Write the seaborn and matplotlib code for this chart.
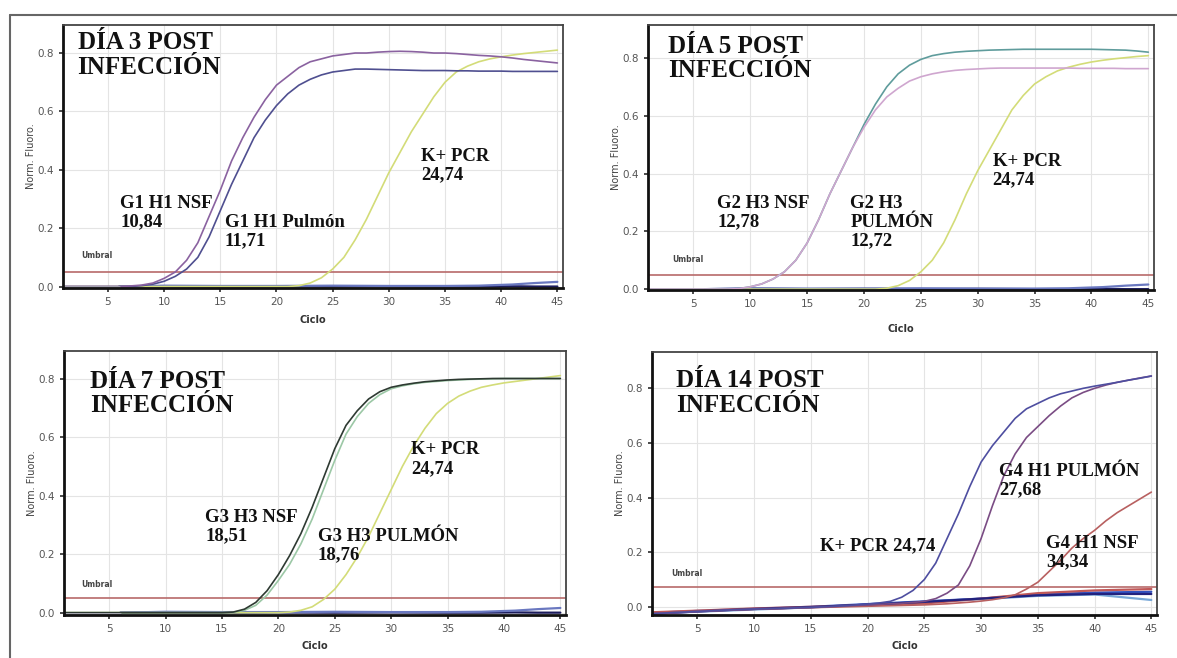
import pandas as pd
import seaborn as sns
import matplotlib.pyplot as plt
from matplotlib.lines import Line2D
from matplotlib.ticker import FormatStrFormatter

# --- datos (fluorescencia normalizada por ciclo) ---
CICLOS = list(range(1, 46))

d3_nsf = [0, 0, 0, 0, 0, 0, 0.002, 0.005, 0.012, 0.028, 0.05, 0.09, 0.15, 0.24, 0.33,
          0.43, 0.51, 0.58, 0.64, 0.69, 0.72, 0.75, 0.77, 0.78, 0.79, 0.795, 0.80, 0.80,
          0.803, 0.805, 0.806, 0.805, 0.803, 0.80, 0.80, 0.798, 0.795, 0.792, 0.79, 0.787,
          0.783, 0.778, 0.774, 0.77, 0.766]
d3_pulmon = [0, 0, 0, 0, 0, 0, 0, 0.003, 0.008, 0.018, 0.035, 0.06, 0.10, 0.17, 0.26,
             0.35, 0.43, 0.51, 0.57, 0.62, 0.66, 0.69, 0.71, 0.725, 0.735, 0.74, 0.745,
             0.745, 0.744, 0.743, 0.742, 0.741, 0.74, 0.74, 0.74, 0.739, 0.739, 0.738,
             0.738, 0.738, 0.737, 0.737, 0.737, 0.737, 0.737]
d3_kpcr = [0] * 21 + [0.003, 0.012, 0.03, 0.06, 0.10, 0.16, 0.23, 0.31, 0.39, 0.46, 0.53,
                      0.59, 0.65, 0.70, 0.735, 0.755, 0.77, 0.78, 0.787, 0.793, 0.798,
                      0.802, 0.806, 0.81]

d5_nsf = [0] * 8 + [0.002, 0.008, 0.018, 0.035, 0.06, 0.10, 0.16, 0.24, 0.33, 0.41, 0.49,
                    0.57, 0.64, 0.70, 0.745, 0.775, 0.795, 0.808, 0.815, 0.82, 0.823, 0.825,
                    0.827, 0.828, 0.829, 0.83, 0.83, 0.83, 0.83, 0.83, 0.83, 0.83, 0.829,
                    0.828, 0.827, 0.824, 0.82]
d5_pulmon = [0] * 8 + [0.002, 0.008, 0.018, 0.035, 0.06, 0.10, 0.16, 0.24, 0.33, 0.41, 0.49,
                       0.56, 0.62, 0.665, 0.695, 0.72, 0.735, 0.745, 0.752, 0.757, 0.76,
                       0.762, 0.764, 0.765, 0.765, 0.765, 0.765, 0.765, 0.765, 0.765, 0.764,
                       0.764, 0.764, 0.764, 0.763, 0.763, 0.763]
d5_kpcr = [0] * 21 + [0.003, 0.012, 0.03, 0.06, 0.10, 0.16, 0.24, 0.33, 0.41, 0.48, 0.55,
                      0.62, 0.67, 0.71, 0.735, 0.755, 0.768, 0.778, 0.786, 0.792, 0.797,
                      0.801, 0.805, 0.808]

d7_nsf = [0] * 15 + [0.002, 0.012, 0.035, 0.075, 0.13, 0.195, 0.27, 0.36, 0.46, 0.56, 0.64,
                     0.69, 0.73, 0.755, 0.77, 0.778, 0.784, 0.789, 0.792, 0.795, 0.797,
                     0.798, 0.799, 0.80, 0.80, 0.80, 0.80, 0.80, 0.80, 0.80]
d7_pulmon = [0] * 15 + [0.001, 0.008, 0.025, 0.06, 0.11, 0.165, 0.235, 0.32, 0.42, 0.52, 0.61,
                        0.67, 0.715, 0.745, 0.765, 0.775, 0.782, 0.787, 0.79, 0.793, 0.795,
                        0.797, 0.798, 0.799, 0.80, 0.80, 0.80, 0.80, 0.80, 0.80]
d7_kpcr = [0] * 20 + [0.002, 0.008, 0.02, 0.045, 0.08, 0.13, 0.19, 0.26, 0.34, 0.42, 0.50,
                      0.57, 0.63, 0.68, 0.715, 0.74, 0.757, 0.77, 0.778, 0.785, 0.79, 0.795,
                      0.80, 0.805, 0.81]

d14_kpcr = [-0.025, -0.023, -0.021, -0.019, -0.017, -0.015, -0.013, -0.011, -0.01, -0.008,
            -0.007, -0.006, -0.005, -0.003, -0.002, 0.0, 0.002, 0.004, 0.007, 0.01, 0.014,
            0.02, 0.035, 0.06, 0.10, 0.16, 0.25, 0.34, 0.44, 0.53, 0.59, 0.64, 0.69, 0.725,
            0.745, 0.765, 0.78, 0.79, 0.80, 0.808, 0.815, 0.822, 0.83, 0.837, 0.845]
d14_pulmon = [-0.026, -0.024, -0.022, -0.02, -0.018, -0.016, -0.014, -0.012, -0.011, -0.009,
              -0.008, -0.007, -0.006, -0.004, -0.003, -0.001, 0.001, 0.003, 0.005, 0.007,
              0.009, 0.011, 0.013, 0.016, 0.02, 0.03, 0.05, 0.08, 0.15, 0.25, 0.37, 0.48,
              0.56, 0.62, 0.66, 0.70, 0.735, 0.765, 0.785, 0.80, 0.812, 0.822, 0.83, 0.838,
              0.845]
d14_nsf = [-0.024, -0.022, -0.02, -0.018, -0.016, -0.015, -0.013, -0.012, -0.01, -0.009,
           -0.008, -0.007, -0.005, -0.004, -0.003, -0.002, -0.001, 0.0, 0.001, 0.002, 0.003,
           0.004, 0.005, 0.006, 0.007, 0.009, 0.011, 0.014, 0.017, 0.021, 0.026, 0.033,
           0.044, 0.065, 0.09, 0.13, 0.17, 0.215, 0.25, 0.28, 0.315, 0.345, 0.37, 0.395, 0.42]

# controles negativos (muestreados en menos ciclos)
NEG_CICLOS = [6, 10, 15, 20, 25, 30, 35, 38, 41, 43, 45]
neg_navy = [0.0, 0.001, 0.0, 0.001, 0.0, 0.001, 0.0, 0.0, 0.001, 0.0, 0.0]
neg_azul = [0.0, 0.003, 0.002, 0.002, 0.003, 0.002, 0.002, 0.003, 0.007, 0.012, 0.016]

NEG14_CICLOS = [1, 5, 10, 15, 20, 25, 30, 35, 40, 45]
neg14_a = [-0.022, -0.015, -0.007, 0.0, 0.01, 0.02, 0.03, 0.045, 0.052, 0.055]
neg14_b = [-0.025, -0.018, -0.01, -0.002, 0.007, 0.017, 0.028, 0.04, 0.045, 0.025]
neg14_c = [-0.02, -0.014, -0.006, 0.0, 0.006, 0.012, 0.03, 0.05, 0.06, 0.065]
neg14_d = [-0.026, -0.017, -0.008, -0.001, 0.008, 0.018, 0.03, 0.042, 0.047, 0.047]

UMBRAL = [0.05, 0.05, 0.05, 0.072]
TITULOS = ["DÍA 3 POST\nINFECCIÓN", "DÍA 5 POST\nINFECCIÓN",
           "DÍA 7 POST\nINFECCIÓN", "DÍA 14 POST\nINFECCIÓN"]

AMARILLO = "#d3dc78"


def to_long(ciclos, series):
    frames = []
    for name, vals in series.items():
        frames.append(pd.DataFrame({"ciclo": ciclos, "fluoro": vals, "serie": name}))
    return pd.concat(frames, ignore_index=True)


def draw_panel(ax, curvas, colores, negs, neg_colores, neg_ciclos, ylim, umbral,
               umbral_xy, titulo, titulo_xy, etiquetas, xpad=6):
    if negs:
        sns.lineplot(data=to_long(neg_ciclos, negs), x="ciclo", y="fluoro", hue="serie",
                     palette=neg_colores, legend=False, ax=ax, linewidth=1.6,
                     estimator=None, sort=False)
    sns.lineplot(data=to_long(CICLOS, curvas), x="ciclo", y="fluoro", hue="serie",
                 palette=colores, legend=False, ax=ax, linewidth=1.2,
                 estimator=None, sort=False)
    ax.axhline(umbral, color="#b86a6a", lw=1.2, zorder=1)
    ax.text(umbral_xy[0], umbral_xy[1], "Umbral", fontsize=5.5, color="#444",
            fontweight="bold", ha="left", va="center")
    ax.text(titulo_xy[0], titulo_xy[1], titulo, family="Liberation Serif",
            fontweight="bold", fontsize=18, ha="left", va="top", linespacing=1.08,
            color="#111")
    for txt, x, y in etiquetas:
        ax.text(x, y, txt, family="Liberation Serif", fontweight="bold", fontsize=13.5,
                ha="left", va="top", linespacing=1.1, color="#111")

    ax.set_xlim(1, 45.5)
    ax.set_ylim(*ylim)
    ax.set_xticks(range(5, 46, 5))
    ax.set_yticks([0.0, 0.2, 0.4, 0.6, 0.8])
    ax.yaxis.set_major_formatter(FormatStrFormatter("%.1f"))
    ax.grid(True, color="#e4e4e4", lw=0.8)
    ax.tick_params(labelsize=7.5, labelcolor="#555", length=3, color="#333",
                   left=True, bottom=True)
    ax.set_xlabel("Ciclo", fontsize=7, fontweight="bold", color="#333", labelpad=xpad)
    ax.set_ylabel("Norm. Fluoro.", fontsize=7, color="#444", labelpad=1)
    for side in ["left", "bottom"]:
        ax.spines[side].set_color("#111")
        ax.spines[side].set_linewidth(2.0)
    for side in ["top", "right"]:
        ax.spines[side].set_color("#444")
        ax.spines[side].set_linewidth(1.3)


sns.set_theme(style="whitegrid")
plt.rcParams["font.family"] = ["DejaVu Sans"]

W, H = 1177, 658
fig = plt.figure(figsize=(W / 100, H / 100), dpi=100)


def add_ax(left, right, top, bottom):
    return fig.add_axes([left / W, 1 - bottom / H, (right - left) / W, (bottom - top) / H])


ax1 = add_ax(63, 563, 25, 288)
ax2 = add_ax(648, 1154, 25, 290)
ax3 = add_ax(64, 566, 351, 615)
ax4 = add_ax(652, 1157, 352, 615)

base_col = {"navy": "#1c1c5c", "azul": "#6a78c0"}
base_negs = {"navy": neg_navy, "azul": neg_azul}

draw_panel(ax1, {"K+ PCR": d3_kpcr, "Pulmon": d3_pulmon, "NSF": d3_nsf},
           {"K+ PCR": AMARILLO, "Pulmon": "#4f4f90", "NSF": "#8a62a0"},
           base_negs, base_col, NEG_CICLOS, (-0.005, 0.896), UMBRAL[0], (2.6, 0.106),
           TITULOS[0], (2.3, 0.875),
           [("G1 H1 NSF\n10,84", 6.1, 0.315), ("G1 H1 Pulmón\n11,71", 15.4, 0.25),
            ("K+ PCR\n24,74", 32.9, 0.475)])

draw_panel(ax2, {"K+ PCR": d5_kpcr, "NSF": d5_nsf, "Pulmon": d5_pulmon},
           {"K+ PCR": AMARILLO, "NSF": "#5f9c9c", "Pulmon": "#cfa6cf"},
           base_negs, base_col, NEG_CICLOS, (-0.003, 0.914), UMBRAL[1], (3.1, 0.104),
           TITULOS[1], (2.8, 0.88),
           [("G2 H3 NSF\n12,78", 7.1, 0.325), ("G2 H3\nPULMÓN\n12,72", 18.8, 0.325),
            ("K+ PCR\n24,74", 31.3, 0.47)], xpad=11)

draw_panel(ax3, {"K+ PCR": d7_kpcr, "Pulmon": d7_pulmon, "NSF": d7_nsf},
           {"K+ PCR": AMARILLO, "Pulmon": "#9cc8a6", "NSF": "#2e3a32"},
           base_negs, base_col, NEG_CICLOS, (-0.008, 0.894), UMBRAL[2], (2.5, 0.095),
           TITULOS[2], (3.3, 0.83),
           [("G3 H3 NSF\n18,51", 13.5, 0.355), ("G3 H3 PULMÓN\n18,76", 23.5, 0.29),
            ("K+ PCR\n24,74", 31.8, 0.585)], xpad=5)

draw_panel(ax4, {"NSF": d14_nsf, "Pulmon": d14_pulmon, "K+ PCR": d14_kpcr},
           {"NSF": "#b86060", "Pulmon": "#7a4c84", "K+ PCR": "#4e4ea0"},
           {"a": neg14_a, "b": neg14_b, "c": neg14_c, "d": neg14_d},
           {"a": "#3050c0", "b": "#78a8d8", "c": "#c05858", "d": "#22227e"},
           NEG14_CICLOS, (-0.03, 0.933), UMBRAL[3], (2.7, 0.123),
           TITULOS[3], (3.1, 0.87),
           [("K+ PCR 24,74", 15.8, 0.255), ("G4 H1 PULMÓN\n27,68", 31.6, 0.525),
            ("G4 H1 NSF\n34,34", 35.7, 0.262)], xpad=5)

# tramo gris de línea base (ciclos 1-6) en los tres primeros paneles
for ax in (ax1, ax2, ax3):
    sns.lineplot(x=[1, 6], y=[-0.003, -0.003], color="#a8a8b4", lw=2, ax=ax)

# marco exterior de la figura
fig.add_artist(Line2D([10 / W, 1], [1 - 15 / H, 1 - 15 / H], transform=fig.transFigure,
                      color="#666", lw=1.5))
fig.add_artist(Line2D([10 / W, 10 / W], [0, 1 - 15 / H], transform=fig.transFigure,
                      color="#666", lw=1.5))

fig.savefig("out.png", dpi=100)
